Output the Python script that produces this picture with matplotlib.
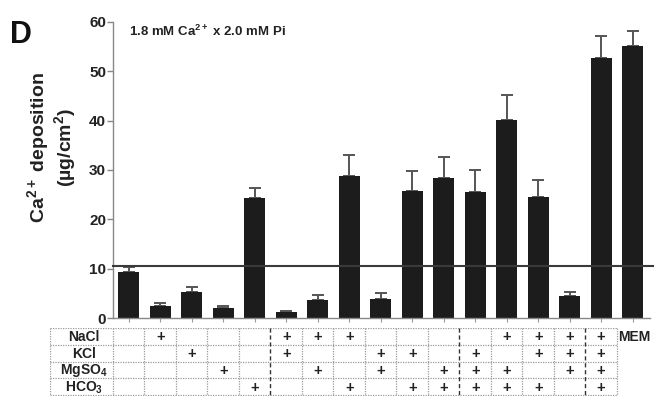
import numpy as np
import matplotlib
matplotlib.use('Agg')
import matplotlib.pyplot as plt

plt.rcParams['font.family'] = ['Liberation Sans', 'DejaVu Sans']
plt.rcParams['font.weight'] = 'bold'
plt.rcParams['mathtext.fontset'] = 'custom'
plt.rcParams['mathtext.rm'] = 'Liberation Sans:bold'
plt.rcParams['mathtext.bf'] = 'Liberation Sans:bold'
plt.rcParams['mathtext.it'] = 'Liberation Sans:bold'
plt.rcParams['mathtext.default'] = 'bf'

# bar heights and upper SEM (ug/cm2)
means = [9.3, 2.5, 5.3, 2.1, 24.3, 1.2, 3.7, 28.7, 3.8, 25.8, 28.3,
         25.6, 40.2, 24.5, 4.5, 52.7, 55.2]
errs = [1.1, 0.6, 1.0, 0.4, 2.0, 0.2, 1.0, 4.4, 1.2, 3.9, 4.4,
        4.4, 5.0, 3.5, 0.8, 4.5, 3.0]
threshold = 10.6

salts = ['NaCl', 'KCl', 'MgSO$_4$', 'HCO$_3$']
# which salts are present for each of the 16 table columns
combos = [
    [], ['NaCl'], ['KCl'], ['MgSO$_4$'], ['HCO$_3$'],
    ['NaCl', 'KCl'], ['NaCl', 'MgSO$_4$'], ['NaCl', 'HCO$_3$'],
    ['KCl', 'MgSO$_4$'], ['KCl', 'HCO$_3$'], ['MgSO$_4$', 'HCO$_3$'],
    ['KCl', 'MgSO$_4$', 'HCO$_3$'], ['NaCl', 'MgSO$_4$', 'HCO$_3$'],
    ['NaCl', 'KCl', 'HCO$_3$'], ['NaCl', 'KCl', 'MgSO$_4$'],
    ['NaCl', 'KCl', 'MgSO$_4$', 'HCO$_3$'],
]
group_breaks = [4.5, 10.5, 14.5]

W, H = 656, 396
fig = plt.figure(figsize=(W / 100, H / 100), dpi=100)

x = np.arange(len(means))
ax = fig.add_axes([113 / W, 1 - 318 / H, (650 - 113) / W, (318 - 22) / H])
ax.bar(x, means, width=0.67, color='#1c1c1c', zorder=2)
ax.errorbar(x, means, yerr=[np.zeros(len(errs)), errs], fmt='none',
            ecolor='#555555', elinewidth=1.4, capsize=4, capthick=1.4, zorder=1)
ax.axhline(threshold, color='#3a3a3a', lw=1.5, zorder=3, clip_on=False, xmax=1.005)
ax.set_xlim(-0.5, 16.55)
ax.set_ylim(0, 60)
ax.set_yticks(range(0, 61, 10))
ax.set_xticks(x)
ax.set_xticklabels([])
for s in ['top', 'right']:
    ax.spines[s].set_visible(False)
for s in ['left', 'bottom']:
    ax.spines[s].set_color('#888888')
    ax.spines[s].set_linewidth(1.0)
ax.tick_params(axis='y', colors='#888888', labelcolor='#222222', labelsize=11,
               length=4, width=1, pad=1)
ax.tick_params(axis='x', colors='#999999', length=3, width=0.8)
for lab in ax.get_yticklabels():
    lab.set_fontweight('bold')
ax.set_ylabel('Ca$^{2+}$ deposition\n(µg/cm$^2$)', fontsize=14, fontweight='bold',
              color='#222222', linespacing=1.05)
ax.yaxis.set_label_coords(-0.066, 0.575)
ax.text(0.03, 0.995, '1.8 mM Ca$^{2+}$ x 2.0 mM Pi', transform=ax.transAxes,
        fontsize=9.5, fontweight='bold', va='top', ha='left', color='#222222')
fig.text(10 / W, 1 - 43 / H, 'D', fontsize=22, fontweight='bold', color='#111111')

# condition table below the axis
tb = fig.add_axes([50 / W, 0, 600 / W, (396 - 328) / H])
tb.set_xlim(-2.5, 16.55)
tb.set_ylim(4.05, 0)
tb.axis('off')
grid = dict(color='#9a9a9a', lw=0.9, ls=(0, (1, 1)))
for r in range(5):
    tb.plot([-2.5, 15.5], [r, r], **grid)
for c in [-2.5] + [i + 0.5 for i in range(-1, 16)]:
    if c in group_breaks:
        tb.plot([c, c], [0, 4.05], color='#333333', lw=1.0, ls=(0, (3, 2)))
    else:
        tb.plot([c, c], [0, 4.05], **grid)
for r, name in enumerate(salts):
    tb.text(-1.42, r + 0.55, name, ha='center', va='center', fontsize=10,
            fontweight='bold', color='#222222')
for c, present in enumerate(combos):
    for r, name in enumerate(salts):
        if name in present:
            tb.text(c, r + 0.55, '+', ha='center', va='center', fontsize=10.5,
                    fontweight='bold', color='#222222')
tb.text(15.55, 0.55, 'MEM', ha='left', va='center', fontsize=10,
        fontweight='bold', color='#222222')

fig.savefig('out.png', dpi=100)
